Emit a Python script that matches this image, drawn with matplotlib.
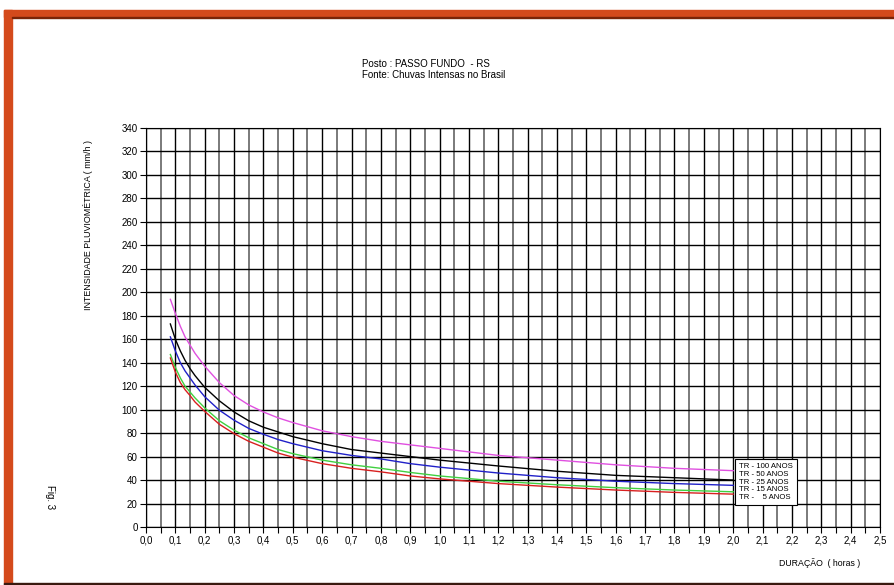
import matplotlib
matplotlib.use("Agg")
import matplotlib.pyplot as plt
from matplotlib.patches import Rectangle
from matplotlib.ticker import MultipleLocator, FixedLocator

plt.rcParams['font.family'] = ['Liberation Sans', 'DejaVu Sans']

durations = [0.083, 0.1, 0.117, 0.133, 0.15, 0.167, 0.2, 0.25, 0.3, 0.35, 0.4, 0.45, 0.5,
             0.6, 0.7, 0.8, 0.9, 1.0, 1.2, 1.4, 1.6, 1.8, 2.0]
tr100 = [194, 182, 171, 162, 155, 148, 137, 123, 112, 104, 98, 93, 89,
         82, 77, 73, 70, 67, 61, 57, 53, 50, 48]
tr50 = [173, 160, 150, 142, 135, 129, 119, 107.5, 98, 90.5, 85, 81, 77,
        71, 66, 63, 60, 57, 52, 47.5, 44, 42, 40]
tr25 = [162, 150, 140, 133, 127, 121, 111, 99.5, 91, 84, 79, 74.5, 71,
        65, 61, 58, 54, 51, 46, 42, 39, 37, 35.5]
tr15 = [147, 136, 127, 120, 115, 110, 101.5, 90.5, 82.5, 76, 71, 66, 62.5,
        57, 53, 50, 46.5, 43.5, 39, 36, 33.5, 31.5, 30]
tr5 = [144, 132, 123, 117, 112, 106.5, 98.5, 87.5, 79.5, 73, 68, 63, 59.5,
       54, 50, 47, 43.5, 41, 37, 34, 31.5, 29.5, 28]

series_labels = ["TR - 100 ANOS", "TR - 50 ANOS", "TR - 25 ANOS", "TR - 15 ANOS", "TR -    5 ANOS"]
colors = ['#E050E0', '#000000', '#2020C8', '#40D040', '#D82020']

x_ticks = [i / 10 for i in range(26)]
x_tick_labels = [f"{v:.1f}".replace('.', ',') for v in x_ticks]
y_ticks = list(range(0, 341, 20))

fig = plt.figure(figsize=(8.94, 5.85), dpi=100)
fig.patch.set_facecolor('white')

# orange frame
W, H = 894, 585
frame_col = '#D44A1C'
fig.add_artist(Rectangle((4 / W, 1 - 17 / H), 1, 7 / H, transform=fig.transFigure, color=frame_col, zorder=0))
fig.add_artist(Rectangle((4 / W, 1 - 584 / H), 8 / W, (584 - 10) / H, transform=fig.transFigure, color=frame_col, zorder=0))
fig.add_artist(Rectangle((12 / W, 1 - 18 / H), 1, 1.2 / H, transform=fig.transFigure, color='#7A2408', zorder=0))
fig.add_artist(Rectangle((4 / W, 1 - 585 / H), 1, 2 / H, transform=fig.transFigure, color='#3A1A10', zorder=0))

ax = fig.add_axes([146 / W, 1 - 527 / H, (880 - 146) / W, (527 - 128) / H])
for s, c in zip([tr100, tr50, tr25, tr15, tr5], colors):
    ax.plot(durations, s, color=c, lw=1.0, zorder=3)

ax.set_xlim(0, 2.5)
ax.set_ylim(0, 340)
ax.xaxis.set_major_locator(FixedLocator(x_ticks))
ax.set_xticklabels(x_tick_labels)
ax.xaxis.set_minor_locator(MultipleLocator(0.05))
ax.set_yticks(y_ticks)
ax.grid(which='major', axis='both', color='black', lw=1.0)
ax.grid(which='minor', axis='x', color='#7a7a7a', lw=1.4)
ax.tick_params(which='both', direction='out', length=4, width=0.8, labelsize=7, pad=2)
for sp in ax.spines.values():
    sp.set_color('black')
    sp.set_linewidth(0.8)

fig.text(362 / W, 1 - 64 / H, "Posto : PASSO FUNDO  - RS", fontsize=7, ha='left', va='center')
fig.text(362 / W, 1 - 75 / H, "Fonte: Chuvas Intensas no Brasil", fontsize=7, ha='left', va='center')
fig.text(88 / W, 1 - 225 / H, "INTENSIDADE PLUVIOMÉTRICA ( mm/h )", fontsize=6.4, rotation=90, ha='center', va='center')
fig.text(820 / W, 1 - 563 / H, "DURAÇÃO  ( horas )", fontsize=6.3, ha='center', va='center')
fig.text(50 / W, 1 - 497 / H, "Fig. 3", fontsize=7, rotation=-90, ha='center', va='center')

# legend box
fig.text(739 / W, 1 - 482 / H, "\n".join(series_labels), fontsize=5.6, ha='left', va='center', linespacing=1.12,
         bbox=dict(boxstyle='square,pad=0.55', facecolor='white', edgecolor='black', lw=0.8), zorder=10)

fig.savefig("out.png", dpi=100)
